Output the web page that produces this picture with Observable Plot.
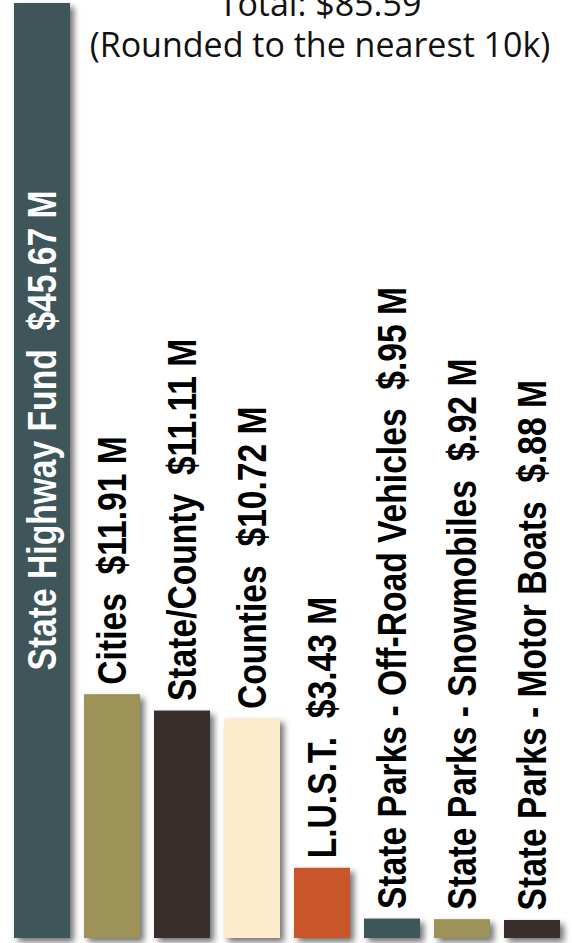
<!DOCTYPE html>
<html>
<head>
<meta charset="utf-8">
<script src="https://cdn.jsdelivr.net/npm/d3@7"></script>
<script src="https://cdn.jsdelivr.net/npm/@observablehq/plot@0.6"></script>
<style>
  html, body { margin: 0; padding: 0; background: #fff; overflow: hidden; }
  #wrap { position: relative; width: 572px; height: 943px; }
  #title { position: absolute; left: 68px; width: 504px; top: -17px; text-align: center;
           font-family: "Open Sans", sans-serif; font-size: 34px; line-height: 41px; color: #111; z-index: 2; }
  svg text { white-space: pre; }
</style>
</head>
<body>
<div id="wrap">
  <div id="title">Total: $85.59<br>(Rounded to the nearest 10k)</div>
  <div id="chart"></div>
</div>
<script>
const categories = ["State Highway Fund", "Cities", "State/County", "Counties", "L.U.S.T.",
  "State Parks - Off-Road Vehicles", "State Parks - Snowmobiles", "State Parks - Motor Boats"];
const values = [45.67, 11.91, 11.11, 10.72, 3.43, 0.95, 0.92, 0.88];
const valueLabels = ["$45.67 M", "$11.91 M", "$11.11 M", "$10.72 M", "$3.43 M", "$.95 M", "$.92 M", "$.88 M"];
const colors = ["#3e555a", "#9d9257", "#382e2c", "#fdebce", "#c9552a", "#3e555a", "#9d9257", "#382e2c"];

const data = categories.map((c, i) => ({category: c, value: values[i], label: `${c}  ${valueLabels[i]}`, color: colors[i]}));
const inside = data.slice(0, 1);
const outside = data.slice(1);

const labelFont = {fontSize: 41, fontWeight: "bold", fontFamily: "'Liberation Sans', Arial, sans-serif", lineAnchor: "middle"};

const chart = Plot.plot({
  width: 572,
  height: 943,
  marginTop: 3,
  marginBottom: 5,
  marginLeft: 11,
  marginRight: 9,
  style: {background: "transparent", overflow: "visible"},
  x: {domain: categories, paddingInner: 0.2, paddingOuter: 0, axis: null},
  y: {domain: [0, 45.67], axis: null},
  marks: [
    Plot.barY(data, {x: "category", y: "value", fill: d => d.color,
      imageFilter: "drop-shadow(4px 4px 3px rgba(0,0,0,0.55))"}),
    Plot.text(outside, {x: "category", y: "value", text: "label", rotate: -90, textAnchor: "start",
      dy: -10, fill: "#000", className: "lbl", ...labelFont}),
    Plot.text(inside, {x: "category", frameAnchor: "bottom", text: "label", rotate: -90, textAnchor: "start",
      dy: -268, fill: "#fff", className: "lbl", ...labelFont})
  ]
});
// condense label glyphs horizontally (along the reading direction)
chart.querySelectorAll("g.lbl text").forEach(t => {
  const tr = t.getAttribute("transform") || "";
  t.setAttribute("transform", tr + " scale(0.82,1)");
});
document.getElementById("chart").appendChild(chart);
</script>
</body>
</html>
